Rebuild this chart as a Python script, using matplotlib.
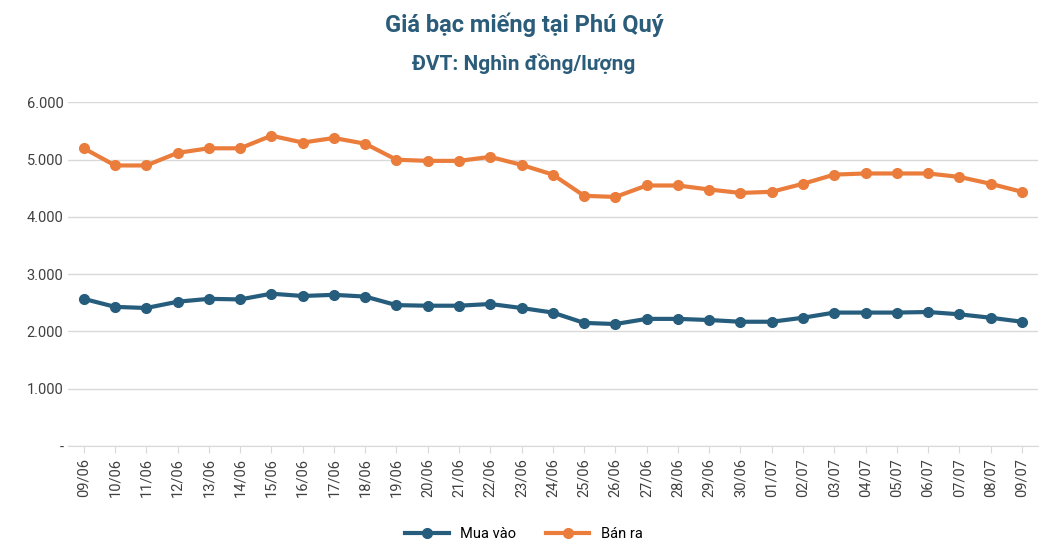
import matplotlib
matplotlib.use("Agg")
import matplotlib.pyplot as plt
from matplotlib.ticker import FuncFormatter

dates = ["09/06","10/06","11/06","12/06","13/06","14/06","15/06","16/06","17/06","18/06",
         "19/06","20/06","21/06","22/06","23/06","24/06","25/06","26/06","27/06","28/06",
         "29/06","30/06","01/07","02/07","03/07","04/07","05/07","06/07","07/07","08/07","09/07"]
ban_ra = [5200,4900,4900,5120,5200,5200,5420,5300,5380,5280,5000,4980,4980,5050,4910,4740,
          4370,4350,4550,4550,4480,4420,4440,4580,4740,4760,4760,4760,4700,4580,4440]
mua_vao = [2570,2430,2410,2520,2570,2560,2660,2620,2640,2610,2460,2450,2450,2480,2410,2330,
           2150,2130,2220,2220,2200,2170,2170,2240,2330,2330,2330,2340,2300,2240,2170]

plt.rcParams['font.family'] = ['Roboto', 'DejaVu Sans']
fig = plt.figure(figsize=(10.48, 5.54), dpi=100)
ax = fig.add_axes([0.065, 0.195, 0.925, 0.62])
x = range(len(dates))
ax.plot(x, mua_vao, color="#265D7C", lw=3, marker="o", ms=7, label="Mua vào")
ax.plot(x, ban_ra, color="#EB7D3C", lw=3, marker="o", ms=7, label="Bán ra")
ax.set_ylim(0, 6000)
ax.set_yticks(range(0, 6001, 1000))
ax.yaxis.set_major_formatter(FuncFormatter(lambda v, p: "-" if v == 0 else f"{int(v):,}".replace(",", ".")))
ax.set_xlim(-0.5, len(dates) - 0.5)
ax.set_xticks(list(x))
ax.set_xticklabels(dates, rotation=90)
ax.tick_params(axis='both', labelsize=10.5, colors="#404040", length=0)
ax.tick_params(axis='x', length=5, color="#d9d9d9")
ax.grid(axis='y', color="#d9d9d9", lw=1)
for s in ["top", "right", "left"]:
    ax.spines[s].set_visible(False)
ax.spines["bottom"].set_color("#d9d9d9")
fig.text(0.5, 0.955, "Giá bạc miếng tại Phú Quý", ha="center", va="center",
         fontsize=17, fontweight="bold", color="#2B5C7A")
fig.text(0.5, 0.885, "ĐVT: Nghìn đồng/lượng", ha="center", va="center",
         fontsize=15, fontweight="bold", color="#2B5C7A")
fig.legend(loc="lower center", ncol=2, frameon=False, fontsize=10.5,
           bbox_to_anchor=(0.5, 0.0), handlelength=3, columnspacing=2)
fig.savefig("out.png", dpi=100)
